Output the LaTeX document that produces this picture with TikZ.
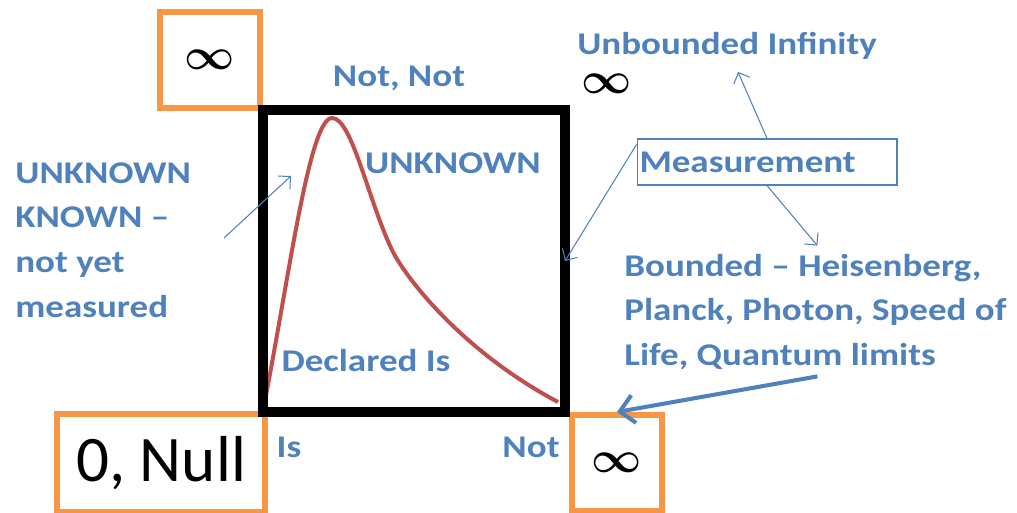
\documentclass[tikz,border=0pt]{standalone}
\usepackage{fontspec}
\setmainfont{Carlito}
\newfontfamily\notefont{Carlito}[FakeStretch=1.17,Ligatures=TeX]
\usetikzlibrary{arrows.meta,positioning}
\definecolor{NoteBlue}{HTML}{4F81BD}
\definecolor{LimOrange}{HTML}{F79646}
\definecolor{CurveRed}{HTML}{C0504D}
\newcommand{\infsym}[1]{{\fontsize{#1}{#1}\selectfont\boldmath$\infty$}}
\tikzset{
  limbox/.style={rectangle,draw=LimOrange,line width=0.12cm,fill=white,inner sep=0pt},
  frame/.style={rectangle,draw=black,line width=0.2cm,minimum size=6.04cm,outer sep=0pt},
  bluelbl/.style={text=NoteBlue,font=\notefont\fontsize{18}{25.5}\selectfont\bfseries,inner sep=0pt,align=left},
  thinarr/.style={-{Straight Barb[length=5pt,width=10pt]},line width=0.6pt,draw=NoteBlue},
  thickarr/.style={-{Straight Barb[length=8pt,width=16pt]},line width=2.3pt,draw=NoteBlue},
}
\begin{document}
\begin{tikzpicture}[x=0.02cm,y=-0.02cm]
  \useasboundingbox (0,0) rectangle (1017,513);

  % limit boxes
  \node[limbox,minimum width=2cm,minimum height=1.92cm] (infTop) at (210,60) {\infsym{28}};
  \node[limbox,minimum width=4.16cm,minimum height=1.96cm] (nullBox) at (161,463) {\fontsize{37}{40}\selectfont 0, Null};
  \node[limbox,minimum width=1.8cm,minimum height=1.92cm] (infBot) at (617,463) {\infsym{25}};

  % curve and frame
  \draw[CurveRed,line width=0.08cm] (266,395) .. controls (290,270) and (310,118) .. (332,118)
    .. controls (352,118) and (368,200) .. (392,250)
    .. controls (404,275) and (460,350) .. (558,402);
  \node[frame] (frame) at (414,261) {};

  % labels
  \node[bluelbl] (notNot) at (399,78) {Not, Not};
  \node[bluelbl] (unk) at (453,163) {UNKNOWN};
  \node[bluelbl] (declared) at (366,361) {Declared Is};
  \node[bluelbl,anchor=west] (unkLeft) at (15,240) {UNKNOWN\\KNOWN --\\not yet\\measured};
  \node[bluelbl] (isLbl) at (289,447) {Is};
  \node[bluelbl] (notLbl) at (531,447) {Not};
  \node[inner sep=0pt] (infUp) at (607,84) {\infsym{25}};
  \node[bluelbl] (unbounded) at (727,46) {Unbounded Infinity};
  \node[bluelbl,draw=NoteBlue,line width=0.6pt,text width=5.1cm,inner xsep=0.05cm,
        minimum height=0.92cm] (meas) at (767,162) {Measurement};
  \node[bluelbl,anchor=west] (bounded) at (624,312) {Bounded -- Heisenberg,\\Planck, Photon, Speed of\\Life, Quantum limits};

  % connectors
  \coordinate (unkTail) at (224,238);
  \coordinate (peakNote) at (291,176);
  \draw[thinarr] (unkTail) -- (peakNote);
  \draw[thinarr] ([yshift=-0.12cm]meas.north west) -- (frame.east);
  \draw[thinarr] (meas.north) -- ([shift={(11,12)}]unbounded.south);
  \draw[thinarr] (meas.south) -- ([shift={(2,-8)}]bounded.north);
  \draw[thickarr] ([shift={(2,6)}]bounded.south) -- (infBot.north);
\end{tikzpicture}
\end{document}
